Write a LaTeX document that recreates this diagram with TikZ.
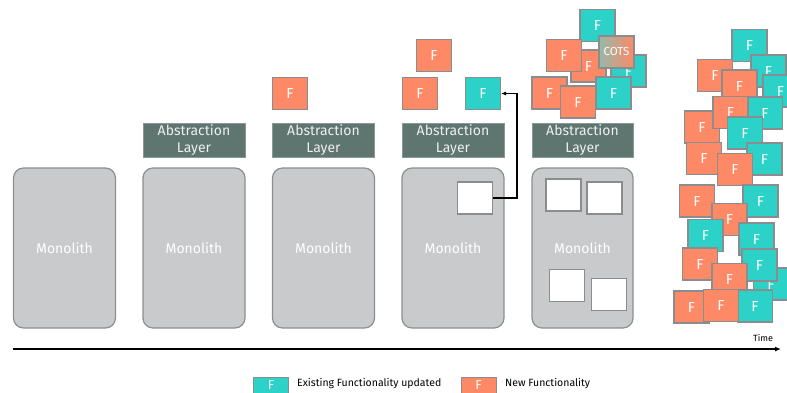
\documentclass[tikz,border=0pt]{standalone}
\usepackage{fontspec}
\setmainfont{Fira Sans}
\usetikzlibrary{arrows.meta}
\definecolor{orng}{RGB}{254,137,102}
\definecolor{teal2}{RGB}{44,210,200}
\definecolor{bordgrey}{RGB}{138,140,142}
\definecolor{monofill}{RGB}{200,202,203}
\definecolor{monobord}{RGB}{140,143,145}
\definecolor{absfill}{RGB}{94,117,112}
\definecolor{absbord}{RGB}{139,153,149}
\definecolor{abstext}{RGB}{236,240,240}
\definecolor{cotsA}{RGB}{150,185,170}
\newcommand{\abstxt}{\raisebox{-2.5pt}{\begin{tabular}{@{}c@{}}Abstraction\\Layer\end{tabular}}}
\tikzset{
  mono/.style={draw=monobord, line width=1.2pt, fill=monofill, rounded corners=10pt,
    minimum width=102pt, minimum height=160pt, inner sep=0pt, text=white, font=\fontsize{14}{16}\selectfont},
  abst/.style={draw=absbord, line width=1pt, fill=absfill, minimum width=102pt, minimum height=33pt,
    inner sep=0pt, text=abstext, font=\fontsize{14}{17}\selectfont},
  fbox/.style={draw=bordgrey, line width=1.1pt, minimum width=35pt, minimum height=32pt, inner sep=0pt,
    text=white, font=\fontsize{14.5}{16}\selectfont},
  fnew/.style={fbox, fill=orng},
  fold/.style={fbox, fill=teal2},
  hole/.style={draw=bordgrey, line width=1.1pt, fill=white, minimum width=35pt, minimum height=32pt, inner sep=0pt},
  legtext/.style={anchor=west, font=\fontsize{10.5}{12}\selectfont, inner sep=0pt},
}
\begin{document}
\begin{tikzpicture}[x=1pt,y=-1pt]
\clip (0,0) rectangle (787,392);
\fill[white] (0,0) rectangle (787,392);
% monoliths
\node[mono] (m1) at (64.5,248) {Monolith};
\node[mono] (m2) at (194,248) {Monolith};
\node[mono] (m3) at (323.5,248) {Monolith};
\node[mono] (m4) at (453,248) {Monolith};
\node[mono, minimum width=101pt] (m5) at (582.5,248) {Monolith};
% abstraction layers
\node[abst] (a2) at (194,140.5) {\abstxt};
\node[abst] (a3) at (323.5,140.5) {\abstxt};
\node[abst] (a4) at (453,140.5) {\abstxt};
\node[abst, minimum width=101pt] (a5) at (582.5,140.5) {\abstxt};
% column 3
\node[fnew] (f3) at (290,93.5) {F};
% column 4
\node[fnew] (f4a) at (434,55.5) {F};
\node[fnew] (f4b) at (420,93.5) {F};
\node[fold] (f4c) at (483,93.5) {F};
\node[hole] (h4) at (475,198) {};
\coordinate (turn4) at (517,198);
\draw[line width=1.1pt, -{Latex[length=5pt,width=4pt]}] (h4.east) -- (turn4) |- (f4c.east);
% column 5
\node[hole] (h5a) at (563.5,195) {};
\node[hole] (h5b) at (604.5,198) {};
\node[hole] (h5c) at (567,285.5) {};
\node[hole] (h5d) at (609,294.5) {};
\node[fold] (f5a) at (597.5,25.5) {F};
\node[fnew] (f5b) at (588.5,66) {F};
\node[fnew] (f5c) at (564,55.5) {F};
\node[fold] (f5d) at (628.5,71) {F};
\node[fbox, left color=cotsA, right color=orng, font=\fontsize{11.5}{12}\selectfont] (cots) at (616.5,52) {COTS};
\node[fold] (f5e) at (613.5,93) {F};
\node[fnew] (f5f) at (549.5,93) {F};
\node[fnew] (f5g) at (578,102) {F};
% column 6
\node[fold] (g1) at (749.5,45.5) {F};
\node[fold] (g3) at (768.5,71) {F};
\node[fnew] (g2) at (715,75.5) {F};
\node[fold] (g4) at (780.5,91) {F};
\node[fnew] (g5) at (739.5,86) {F};
\node[fold] (g6) at (765,113) {F};
\node[fnew] (g8) at (702,127) {F};
\node[fnew] (g7) at (730.5,112.5) {F};
\node[fold] (g9) at (745,133) {F};
\node[fold] (g11) at (764.5,159) {F};
\node[fnew] (g10) at (704,158.5) {F};
\node[fnew] (g12) at (735,169.5) {F};
\node[fnew] (g13) at (697,201) {F};
\node[fold] (g14) at (760.5,201) {F};
\node[fnew] (g15) at (729.5,219.5) {F};
\node[fold] (g16) at (705.5,235.5) {F};
\node[fold] (g17) at (756.5,239) {F};
\node[fold] (g21) at (771,284) {F};
\node[fold] (g19) at (759.5,265) {F};
\node[fnew] (g18) at (700,264) {F};
\node[fnew] (g20) at (729.5,279.5) {F};
\node[fold] (g22) at (755,306) {F};
\node[fnew] (g23) at (691.5,307) {F};
\node[fnew] (g24) at (721,305.5) {F};
% time axis
\coordinate (t0) at (13,349);
\coordinate (t1) at (781,349);
\draw[line width=1.2pt, -{Latex[length=6pt,width=5pt]}] (t0) -- (t1);
\node[font=\fontsize{9}{10}\selectfont, anchor=center] (time) at (763,338) {Time};
% legend
\node[fold, anchor=north west] (lg1) at (253,377) {};
\node[text=white, font=\fontsize{13}{14}\selectfont, inner sep=0pt] (lf1) at (271,385.5) {F};
\node[legtext] (lt1) at (297,384) {Existing Functionality updated};
\node[fnew, anchor=north west] (lg2) at (461,377) {};
\node[text=white, font=\fontsize{13}{14}\selectfont, inner sep=0pt] (lf2) at (478.5,385.5) {F};
\node[legtext] (lt2) at (505,384) {New Functionality};
\end{tikzpicture}
\end{document}
